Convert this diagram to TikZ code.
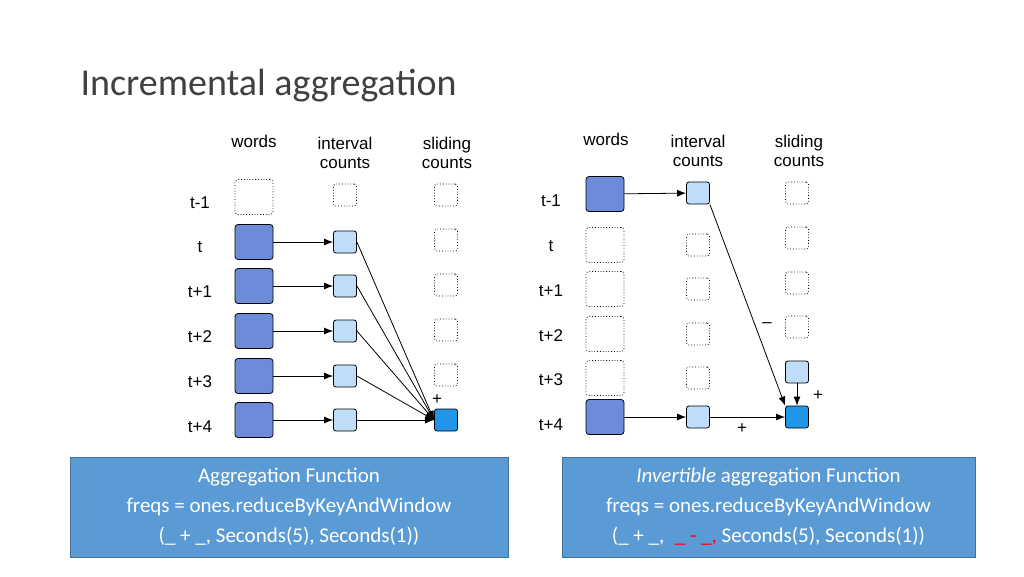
\documentclass[tikz,border=0pt]{standalone}
\usepackage{fontspec}
\setmainfont{Carlito}
\newfontfamily\diagfont{Liberation Sans}
\usetikzlibrary{arrows.meta}
\definecolor{wordblue}{HTML}{6C8CDA}
\definecolor{intblue}{HTML}{BFDDF8}
\definecolor{slideblue}{HTML}{2196E8}
\definecolor{boxblue}{HTML}{5B9BD5}
\definecolor{boxedge}{HTML}{41719C}
\tikzset{
  word/.style={draw,thick,rounded corners=3pt,fill=wordblue,minimum width=38pt,minimum height=35pt},
  cnt/.style={draw,thick,rounded corners=2.5pt,fill=intblue,minimum width=23pt,minimum height=22pt},
  sld/.style={cnt,fill=slideblue},
  emptyw/.style={draw,dotted,thick,rounded corners=3pt,minimum width=38pt,minimum height=35pt},
  emptyc/.style={draw,dotted,thick,rounded corners=2.5pt,minimum width=23pt,minimum height=22pt},
  lbl/.style={font=\diagfont\fontsize{17}{19}\selectfont,align=center},
  info/.style={draw=boxedge,fill=boxblue,text=white,font=\fontsize{21}{30}\selectfont,align=center},
  arr/.style={-{Latex[length=9pt,width=7pt]},thick}
}
\begin{document}
\begin{tikzpicture}[x=1pt,y=-1pt]
\useasboundingbox (0,0) rectangle (1024,576);
\node[anchor=west,text=black!75,font=\fontsize{38}{40}\selectfont] (title) at (77,86) {Incremental aggregation};

% left diagram
\node[lbl] (lw) at (254,141) {words};
\node[lbl] (li) at (345,153) {interval\\counts};
\node[lbl] (ls) at (447,153) {sliding\\counts};
\node[lbl] (lt0) at (200,203) {t-1};
\node[lbl] (lt1) at (200,247) {t};
\node[lbl] (lt2) at (200,292) {t+1};
\node[lbl] (lt3) at (200,337) {t+2};
\node[lbl] (lt4) at (200,382) {t+3};
\node[lbl] (lt5) at (200,427) {t+4};
\node[emptyw] (lw0) at (254,197) {};
\node[emptyc] (li0) at (345,195) {};
\node[emptyc] (ls0) at (446,195) {};
\foreach \i/\y in {1/242,2/286,3/331,4/376,5/420}{
  \node[word] (lw\i) at (254,\y) {};
  \node[cnt] (li\i) at (345,\y) {};
  \draw[arr] (lw\i) -- (li\i);
}
\foreach \i/\y in {1/240,2/285,3/330,4/375}{
  \node[emptyc] (ls\i) at (446,\y) {};
}
\node[sld] (ls5) at (446,420) {};
\foreach \i in {1,...,5}{
  \draw[arr] (li\i.east) -- (ls5.west);
}
\node[lbl] (lplus) at (437,400) {+};

% right diagram
\node[lbl] (rw) at (606,139) {words};
\node[lbl] (ri) at (698,151) {interval\\counts};
\node[lbl] (rs) at (799,151) {sliding\\counts};
\node[lbl] (rt0) at (551,201) {t-1};
\node[lbl] (rt1) at (551,246) {t};
\node[lbl] (rt2) at (551,291) {t+1};
\node[lbl] (rt3) at (551,336) {t+2};
\node[lbl] (rt4) at (551,380) {t+3};
\node[lbl] (rt5) at (551,425) {t+4};
\node[word] (rw0) at (605,194) {};
\node[cnt] (ri0) at (698,193) {};
\node[emptyc] (rs0) at (797,193) {};
\foreach \i/\y in {1/245,2/289,3/334,4/378}{
  \node[emptyw] (rw\i) at (605,\y) {};
  \node[emptyc] (ri\i) at (698,\y) {};
}
\foreach \i/\y in {1/238,2/283,3/327}{
  \node[emptyc] (rs\i) at (797,\y) {};
}
\node[cnt] (rs4) at (797,372) {};
\node[word] (rw5) at (605,417) {};
\node[cnt] (ri5) at (698,417) {};
\node[sld] (rs5) at (797,417) {};
\draw[arr] (rw0) -- (ri0);
\draw[arr] (rw5) -- (ri5);
\draw[arr] (ri5) -- (rs5);
\draw[arr] (rs4) -- (rs5);
\draw[arr] (ri0.south east) -- (rs5.north west);
\node[lbl] (rminus) at (767,325) {\textendash};
\node[lbl] (rplus1) at (818,396) {+};
\node[lbl] (rplus2) at (742,429) {+};

% function boxes
\node[info,minimum width=438pt,minimum height=100pt] (lbox) at (289,507)
  {Aggregation Function\\freqs = ones.reduceByKeyAndWindow\\(\_ + \_, Seconds(5), Seconds(1))};
\node[info,minimum width=413pt,minimum height=100pt] (rbox) at (768.5,507)
  {\textit{Invertible} aggregation Function\\freqs = ones.reduceByKeyAndWindow\\(\_ + \_,\enspace{\color{red}\_ - \_,} Seconds(5), Seconds(1))};
\end{tikzpicture}
\end{document}
